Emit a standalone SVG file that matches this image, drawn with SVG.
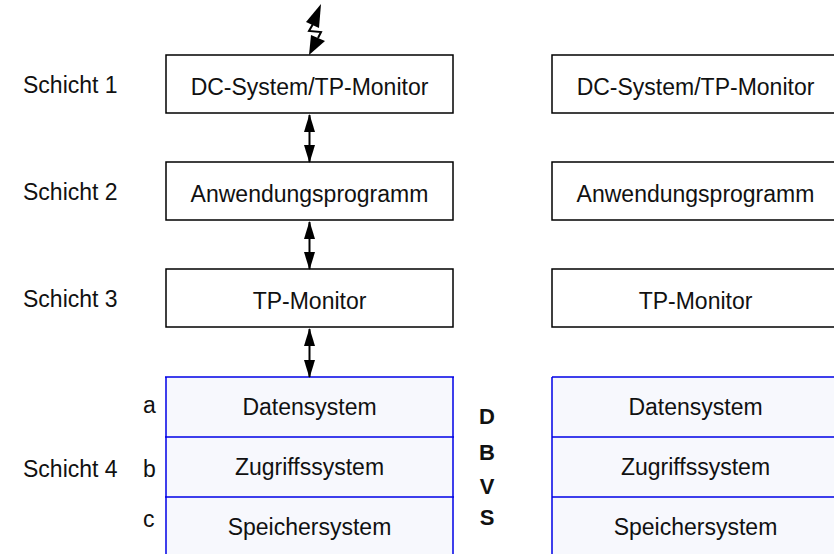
<svg xmlns="http://www.w3.org/2000/svg" width="834" height="554" viewBox="0 0 834 554">
<defs>
<style>
text{font-family:"Liberation Sans",Arial,sans-serif;font-size:23px;fill:#111}
.c{text-anchor:middle}
.b{font-weight:bold;font-size:22px}
.box{fill:#fff;stroke:#000;stroke-width:1.5}
.db{fill:#f7f8fd;stroke:none}
.bl{stroke:#0000e6;stroke-width:1.5;fill:none}
.con{stroke:#000;stroke-width:2;fill:none}
</style>
<marker id="ah" viewBox="0 0 18 11" refX="17" refY="5.5" markerWidth="18" markerHeight="11" markerUnits="userSpaceOnUse" orient="auto-start-reverse">
<path d="M0,0 L18,5.5 L0,11 z" fill="#000"/>
</marker>
</defs>
<rect width="834" height="554" fill="#fff"/>
<g id="labels">
<text x="23" y="93">Schicht 1</text>
<text x="23" y="200">Schicht 2</text>
<text x="23" y="307">Schicht 3</text>
<text x="23" y="477">Schicht 4</text>
<text x="143" y="413">a</text>
<text x="143" y="477">b</text>
<text x="143" y="527">c</text>
</g>
<g id="l1"><rect class="box" x="166" y="55" width="287" height="58"/><text class="c" x="309.5" y="95">DC-System/TP-Monitor</text></g>
<g id="l2"><rect class="box" x="166" y="162" width="287" height="58"/><text class="c" x="309.5" y="202">Anwendungsprogramm</text></g>
<g id="l3"><rect class="box" x="166" y="269" width="287" height="58"/><text class="c" x="309.5" y="309">TP-Monitor</text></g>
<g id="ldbvs">
<rect class="db" x="166" y="377" width="287" height="180"/>
<path class="bl" d="M166,377 V557 M453,377 V557 M165,377 H454 M165,437 H454 M165,497 H454"/>
<text class="c" x="309.5" y="415">Datensystem</text>
<text class="c" x="309.5" y="475">Zugriffssystem</text>
<text class="c" x="309.5" y="535">Speichersystem</text>
</g>
<g id="dbvs-label">
<text class="c b" x="487" y="424">D</text>
<text class="c b" x="487" y="460">B</text>
<text class="c b" x="487" y="494">V</text>
<text class="c b" x="487" y="525">S</text>
</g>
<g id="r1"><rect class="box" x="552" y="55" width="290" height="58"/><text class="c" x="695.5" y="95">DC-System/TP-Monitor</text></g>
<g id="r2"><rect class="box" x="552" y="162" width="290" height="58"/><text class="c" x="695.5" y="202">Anwendungsprogramm</text></g>
<g id="r3"><rect class="box" x="552" y="269" width="290" height="58"/><text class="c" x="695.5" y="309">TP-Monitor</text></g>
<g id="rdbvs">
<rect class="db" x="552" y="377" width="290" height="180"/>
<path class="bl" d="M552,377 V557 M552,377 H842 M552,437 H842 M552,497 H842"/>
<text class="c" x="695.5" y="415">Datensystem</text>
<text class="c" x="695.5" y="475">Zugriffssystem</text>
<text class="c" x="695.5" y="535">Speichersystem</text>
</g>
<g id="connectors">
<line class="con" x1="309.5" y1="115" x2="309.5" y2="162" marker-start="url(#ah)" marker-end="url(#ah)"/>
<line class="con" x1="309.5" y1="222" x2="309.5" y2="269" marker-start="url(#ah)" marker-end="url(#ah)"/>
<line class="con" x1="309.5" y1="329" x2="309.5" y2="377" marker-start="url(#ah)" marker-end="url(#ah)"/>
<path class="con" d="M313,24 L309,31 L321,32 L318,38" stroke-width="1.2"/>
<polygon points="321,4 306,22 319,28" fill="#000"/>
<polygon points="311,35 325,41 309,55" fill="#000"/>
</g>
</svg>
